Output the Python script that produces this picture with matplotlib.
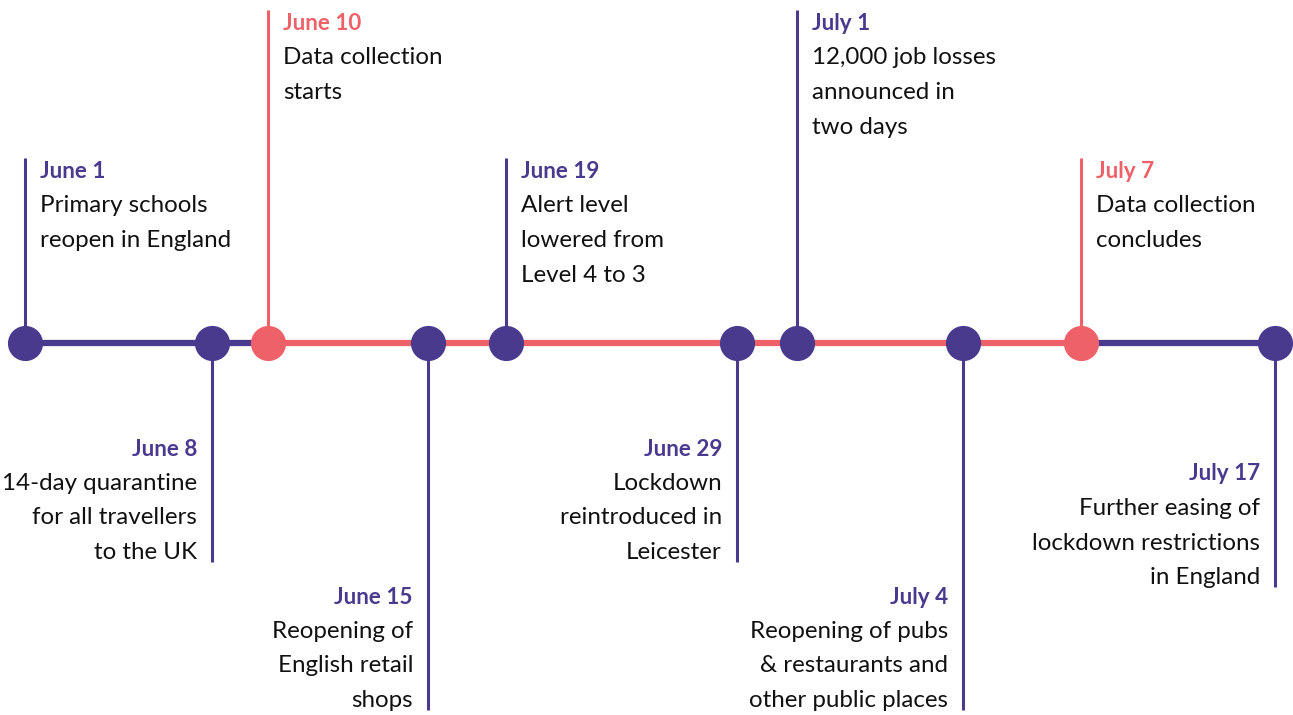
import matplotlib
matplotlib.use("Agg")
import matplotlib.pyplot as plt

# ---- data ----
dates = ["June 1", "June 8", "June 10", "June 15", "June 19",
         "June 29", "July 1", "July 4", "July 7", "July 17"]
descriptions = [
    ["Primary schools", "reopen in England"],
    ["14-day quarantine", "for all travellers", "to the UK"],
    ["Data collection", "starts"],
    ["Reopening of", "English retail", "shops"],
    ["Alert level", "lowered from", "Level 4 to 3"],
    ["Lockdown", "reintroduced in", "Leicester"],
    ["12,000 job losses", "announced in", "two days"],
    ["Reopening of pubs", "& restaurants and", "other public places"],
    ["Data collection", "concludes"],
    ["Further easing of", "lockdown restrictions", "in England"],
]
# position along the timeline (visual units)
positions = [25, 212, 268, 428, 506, 737, 797, 963, 1081, 1275]
# +1 = label above the line, -1 = below
sides = [1, -1, 1, -1, 1, -1, 1, -1, 1, -1]
# stem length in visual units
stems = [185, 219, 333, 367, 185, 219, 333, 367, 185, 244]
# data-collection milestones highlighted
is_collection = [False, False, True, False, False, False, False, False, True, False]

PURPLE = "#4A3A8E"
CORAL = "#EE6169"
TEXT = "#111111"
FONT = "Lato"

fig = plt.figure(figsize=(12.93, 7.15), dpi=100)
ax = fig.add_axes([0, 0, 1, 1])
ax.set_xlim(0, 1293)
ax.set_ylim(715, 0)
ax.axis("off")

BASE_Y = 343
LINE_H = 34.5
FS = 17.4
FS_B = 16.2

# main line segments
coll_pos = [p for p, c in zip(positions, is_collection) if c]
ax.plot([positions[0], coll_pos[0]], [BASE_Y, BASE_Y], color=PURPLE, lw=4.5,
        solid_capstyle="butt", zorder=1)
ax.plot([coll_pos[0], coll_pos[-1]], [BASE_Y, BASE_Y], color=CORAL, lw=4.5,
        solid_capstyle="butt", zorder=1)
ax.plot([coll_pos[-1], positions[-1]], [BASE_Y, BASE_Y], color=PURPLE, lw=4.5,
        solid_capstyle="butt", zorder=1)

for d, desc, x, s, L, c in zip(dates, descriptions, positions, sides, stems, is_collection):
    col = CORAL if c else PURPLE
    end = BASE_Y - s * L
    ax.plot([x, x], [BASE_Y, end], color=col, lw=2.2, zorder=1,
            solid_capstyle="butt")
    ax.scatter([x], [BASE_Y], s=640, color=col, zorder=3, linewidths=0)
    lines = [d] + desc
    if s > 0:
        tx = x + 15
        y0 = end + 20
        for i, ln in enumerate(lines):
            ax.text(tx, y0 + i * LINE_H, ln, ha="left", va="baseline",
                    fontsize=FS_B if i == 0 else FS, family=FONT,
                    fontweight="bold" if i == 0 else "normal",
                    color=col if i == 0 else TEXT)
    else:
        tx = x - 15
        ylast = end - 3
        n = len(lines)
        for i, ln in enumerate(lines):
            ax.text(tx, ylast - (n - 1 - i) * LINE_H, ln, ha="right", va="baseline",
                    fontsize=FS_B if i == 0 else FS, family=FONT,
                    fontweight="bold" if i == 0 else "normal",
                    color=col if i == 0 else TEXT)

fig.savefig("out.png", dpi=100, facecolor="white")
